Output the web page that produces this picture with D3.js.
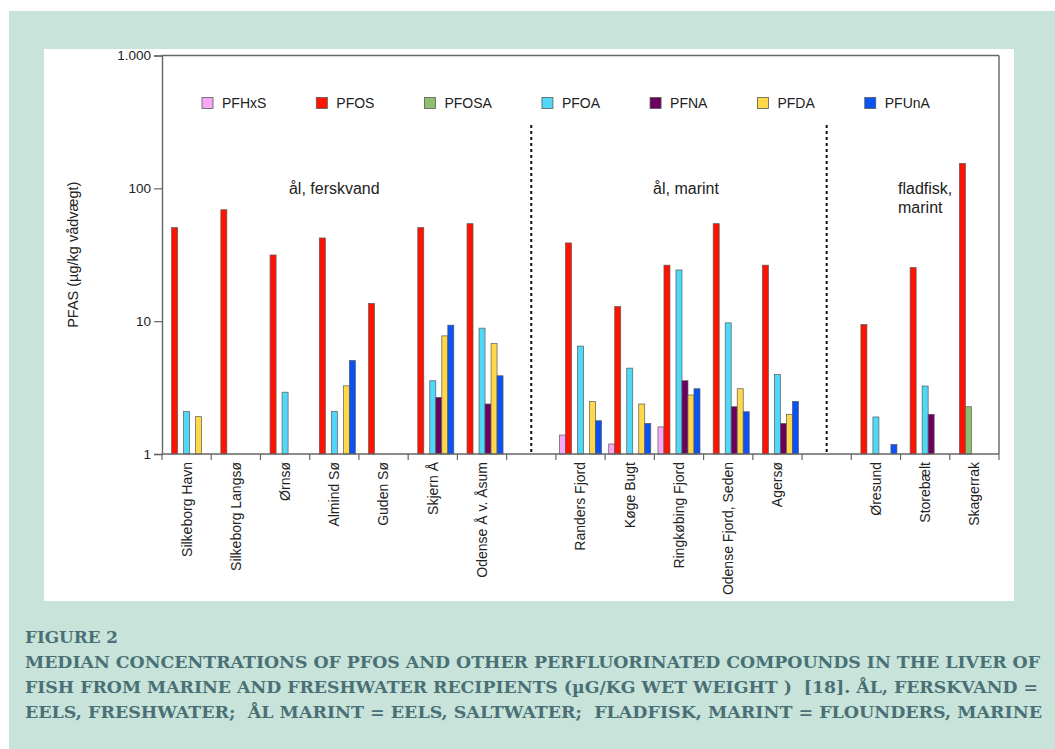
<!DOCTYPE html>
<html>
<head>
<meta charset="utf-8">
<script src="https://cdn.jsdelivr.net/npm/d3@7"></script>
<style>
  html, body { margin: 0; padding: 0; background: #ffffff; }
  svg { display: block; }
</style>
</head>
<body>
<script>
// ---------- DATA ----------
const categories = ["Silkeborg Havn", "Silkeborg Langsø", "Ørnsø", "Almind Sø", "Guden Sø", "Skjern Å", "Odense Å v. Åsum",
  "", "Randers Fjord", "Køge Bugt", "Ringkøbing Fjord", "Odense Fjord, Seden", "Agersø",
  "", "Øresund", "Storebælt", "Skagerrak"];
const seriesNames = ["PFHxS", "PFOS", "PFOSA", "PFOA", "PFNA", "PFDA", "PFUnA"];
const PFHxS = [null, null, null, null, null, null, null, null, 1.39, 1.19, 1.60, null, null, null, null, null, null];
const PFOS  = [50.6, 69, 31.5, 42.3, 13.6, 50.6, 54.2, null, 38.8, 12.9, 26.4, 54.2, 26.4, null, 9.43, 25.3, 154];
const PFOSA = [null, null, null, null, null, null, null, null, null, null, null, null, null, null, null, null, 2.27];
const PFOA  = [2.09, null, 2.92, 2.09, null, 3.56, 8.86, null, 6.49, 4.43, 24.3, 9.71, 3.97, null, 1.90, 3.25, null];
const PFNA  = [null, null, null, null, null, 2.67, 2.38, null, null, null, 3.56, 2.27, 1.70, null, null, 1.99, null];
const PFDA  = [1.91, null, null, 3.26, null, 7.75, 6.79, null, 2.49, 2.38, 2.78, 3.10, 1.99, null, null, null, null];
const PFUnA = [null, null, null, 5.06, null, 9.33, 3.88, null, 1.78, 1.70, 3.10, 2.08, 2.49, null, 1.18, null, null];
const seriesValues = [PFHxS, PFOS, PFOSA, PFOA, PFNA, PFDA, PFUnA];
const yTicks = [1, 10, 100, 1000];
const yTickLabels = ["1", "10", "100", "1.000"];
const groupLabels = [
  { lines: ["ål, ferskvand"], from: 0, to: 6 },
  { lines: ["ål, marint"], from: 8, to: 12 },
  { lines: ["fladfisk,", "marint"], from: 14, to: 16 }
];
const separators = [7, 13];
const yTitle = "PFAS (µg/kg vådvægt)";
const captionLines = [
  "FIGURE 2",
  "MEDIAN CONCENTRATIONS OF PFOS AND OTHER PERFLUORINATED COMPOUNDS IN THE LIVER OF",
  "FISH FROM MARINE AND FRESHWATER RECIPIENTS (µG/KG WET WEIGHT )  [18]. ÅL, FERSKVAND =",
  "EELS, FRESHWATER;  ÅL MARINT = EELS, SALTWATER;  FLADFISK, MARINT = FLOUNDERS, MARINE"
];

// ---------- STYLE ----------
const colors = { PFHxS: "#f9a8f6", PFOS: "#ff1200", PFOSA: "#8dbf70", PFOA: "#4fd8f7", PFNA: "#6b005e", PFDA: "#ffd84a", PFUnA: "#0a52f5" };
const W = 1055, H = 749;
const plot = { left: 162, right: 999, top: 55.5, bottom: 454 };
const sansFont = "'Liberation Sans', Arial, Helvetica, sans-serif";
const textCol = "#222";
const axisCol = "#666";

const svg = d3.select("body").append("svg").attr("width", W).attr("height", H);

// backgrounds
svg.append("rect").attr("x", 0).attr("y", 0).attr("width", W).attr("height", H).attr("fill", "#ffffff");
svg.append("rect").attr("x", 9).attr("y", 11).attr("width", W - 9).attr("height", H - 11).attr("fill", "#c7e3da");
svg.append("rect").attr("x", 44).attr("y", 49).attr("width", 970).attr("height", 552).attr("fill", "#ffffff");

// scales
const idx = d3.range(categories.length);
const x0 = d3.scaleBand().domain(idx).range([plot.left, plot.right]).paddingInner(0).paddingOuter(0);
const x1 = d3.scaleBand().domain(seriesNames).range([3.6, x0.bandwidth() - 3.6]);
const y = d3.scaleLog().domain([1, 1000]).range([plot.bottom, plot.top]);

// bars
const barData = [];
seriesNames.forEach((s, si) => {
  seriesValues[si].forEach((v, ci) => { if (v != null) barData.push({ s, ci, v }); });
});
svg.append("g").selectAll("rect").data(barData).join("rect")
  .attr("x", d => x0(d.ci) + x1(d.s))
  .attr("y", d => y(d.v))
  .attr("width", x1.bandwidth())
  .attr("height", d => y(1) - y(d.v))
  .attr("fill", d => colors[d.s])
  .attr("stroke", "#5a5a5a")
  .attr("stroke-width", 0.7);

// frame
const frame = svg.append("g").attr("fill", "none").attr("stroke", axisCol).attr("stroke-width", 1.4);
frame.append("line").attr("x1", plot.left).attr("x2", plot.right).attr("y1", plot.top).attr("y2", plot.top);
frame.append("line").attr("x1", plot.right).attr("x2", plot.right).attr("y1", plot.top).attr("y2", plot.bottom);

// y axis
const yAxis = d3.axisLeft(y).tickValues(yTicks).tickFormat((d, i) => yTickLabels[i]).tickSize(8).tickPadding(3);
const gy = svg.append("g").attr("transform", `translate(${plot.left},0)`).call(yAxis);
gy.select(".domain").attr("stroke", axisCol).attr("stroke-width", 1.4);
gy.selectAll(".tick line").attr("stroke", axisCol).attr("stroke-width", 1.2);
gy.selectAll(".tick text").attr("font-family", sansFont).attr("font-size", 13.5).attr("fill", textCol);

// x axis (ticks at category boundaries)
const gx = svg.append("g").attr("transform", `translate(0,${plot.bottom})`);
gx.append("line").attr("x1", plot.left).attr("x2", plot.right).attr("stroke", axisCol).attr("stroke-width", 1.4);
gx.selectAll("line.tk").data(d3.range(categories.length + 1)).join("line").attr("class", "tk")
  .attr("x1", i => plot.left + i * x0.step()).attr("x2", i => plot.left + i * x0.step())
  .attr("y1", 0).attr("y2", 6).attr("stroke", axisCol).attr("stroke-width", 1.2);
gx.selectAll("text").data(idx.filter(i => categories[i] !== "")).join("text")
  .attr("transform", i => `translate(${x0(i) + x0.bandwidth() / 2},8) rotate(-90)`)
  .attr("text-anchor", "end").attr("dy", "0.35em")
  .attr("font-family", sansFont).attr("font-size", 14).attr("fill", textCol)
  .text(i => categories[i]);

// separators (dotted)
svg.append("g").selectAll("line").data(separators).join("line")
  .attr("x1", i => x0(i) + x0.bandwidth() / 2).attr("x2", i => x0(i) + x0.bandwidth() / 2)
  .attr("y1", y(300)).attr("y2", plot.bottom)
  .attr("stroke", "#111").attr("stroke-width", 2).attr("stroke-dasharray", "3,3");

// group labels
const gl = svg.append("g").attr("font-family", sansFont).attr("font-size", 16).attr("fill", textCol);
groupLabels.forEach(g => {
  const cx = (x0(g.from) + x0(g.to) + x0.bandwidth()) / 2;
  if (g.lines.length === 1) {
    gl.append("text").attr("x", cx + (g.from === 8 ? 7 : 0)).attr("y", y(100) + 6).attr("text-anchor", "middle").text(g.lines[0]);
  } else {
    const t = gl.append("text").attr("y", y(100) + 6).text(g.lines[0]);
    const w = t.node().getComputedTextLength();
    t.attr("x", cx - w / 2);
    gl.append("text").attr("x", cx - w / 2).attr("y", y(100) + 25).text(g.lines[1]);
  }
});

// y title
svg.append("text").attr("transform", `translate(78,${(plot.top + plot.bottom) / 2}) rotate(-90)`)
  .attr("text-anchor", "middle").attr("font-family", sansFont).attr("font-size", 14.5).attr("fill", textCol)
  .text(yTitle);

// legend (flow layout)
const lg = svg.append("g").attr("font-family", sansFont).attr("font-size", 14).attr("fill", textCol);
let lx = 202;
const ly = 103;
seriesNames.forEach(s => {
  lg.append("rect").attr("x", lx).attr("y", ly - 5.5).attr("width", 11).attr("height", 11)
    .attr("fill", colors[s]).attr("stroke", "#5a5a5a").attr("stroke-width", 0.8);
  const t = lg.append("text").attr("x", lx + 20).attr("y", ly).attr("dy", "0.35em").text(s);
  lx += 20 + t.node().getComputedTextLength() + 50;
});

// caption
const cap = svg.append("g").attr("font-family", "'DejaVu Serif', 'Liberation Serif', serif").attr("font-weight", "bold")
  .attr("font-size", 16.5).attr("fill", "#4a7075");
const capBase = [643, 668, 693, 718];
const capLen = [93, 1015, 1013, 1017];
captionLines.forEach((line, i) => {
  cap.append("text").attr("x", 25).attr("y", capBase[i]).attr("textLength", capLen[i])
    .attr("lengthAdjust", "spacingAndGlyphs").style("white-space", "pre").text(line);
});
</script>
</body>
</html>
